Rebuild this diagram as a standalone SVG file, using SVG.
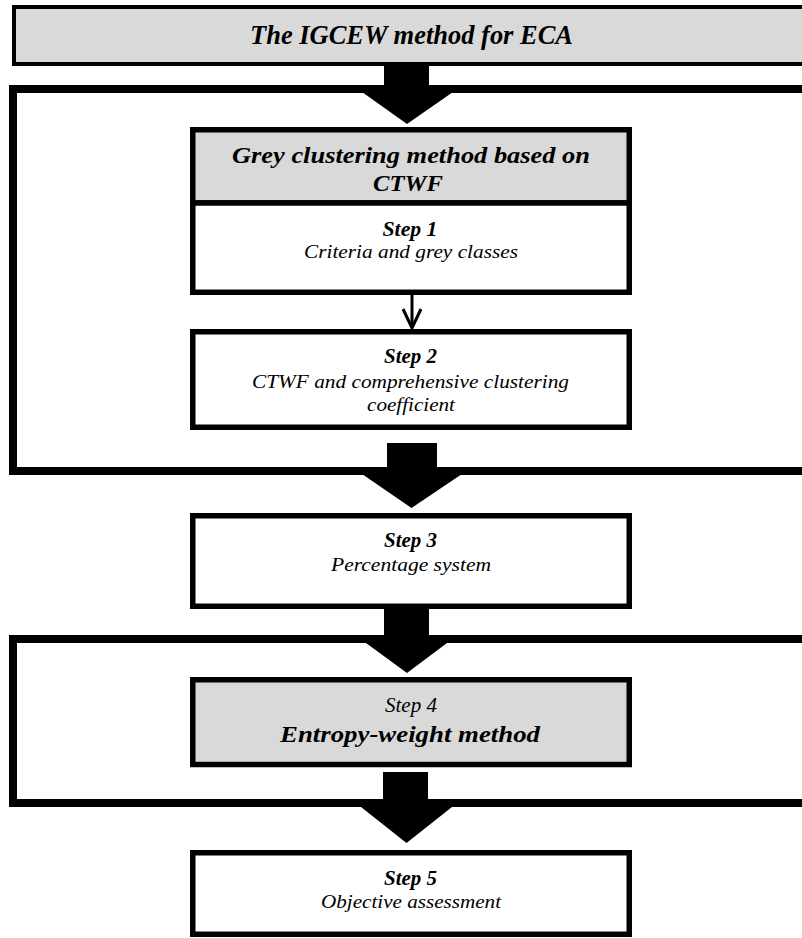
<svg xmlns="http://www.w3.org/2000/svg" width="802" height="938" viewBox="0 0 802 938">
<defs>
<style>
.frame{fill:none;stroke:#000;stroke-width:8}
.box{fill:#fff;stroke:#000;stroke-width:5.5}
.grey{fill:#d9d9d9;stroke:#000;stroke-width:5.5}
text{font-family:'Times New Roman','Liberation Serif',Tinos,serif;font-style:italic;text-anchor:middle;fill:#000}
.b{font-weight:bold}
.big{fill:#000;stroke:none}
</style>
</defs>
<rect width="802" height="938" fill="#fff"/>
<g id="frames">
<rect class="frame" x="13" y="89" width="810" height="382"/>
<rect class="frame" x="13" y="639" width="810" height="164"/>
</g>
<g id="title">
<rect x="14" y="7" width="810" height="57" fill="#d9d9d9" stroke="#000" stroke-width="4"/>
<text class="b" x="411.5" y="44" font-size="27" textLength="323" lengthAdjust="spacingAndGlyphs">The IGCEW method for ECA</text>
</g>
<g id="grey-clustering">
<rect class="grey" x="192.75" y="129.75" width="436.5" height="73.25"/>
<text class="b" x="411" y="163" font-size="23" textLength="358" lengthAdjust="spacingAndGlyphs">Grey clustering method based on</text>
<text class="b" x="408" y="191" font-size="23" textLength="70" lengthAdjust="spacingAndGlyphs">CTWF</text>
</g>
<g id="step1">
<rect class="box" x="192.75" y="203" width="436.5" height="89.25"/>
<text class="b" x="410" y="235.5" font-size="20" textLength="55" lengthAdjust="spacingAndGlyphs">Step 1</text>
<text x="411" y="258" font-size="19" textLength="214" lengthAdjust="spacingAndGlyphs">Criteria and grey classes</text>
</g>
<g id="step2">
<rect class="box" x="192.75" y="331.75" width="436.5" height="95.5"/>
<text class="b" x="410.5" y="363" font-size="20" textLength="53" lengthAdjust="spacingAndGlyphs">Step 2</text>
<text x="410.5" y="388" font-size="19" textLength="317" lengthAdjust="spacingAndGlyphs">CTWF and comprehensive clustering</text>
<text x="411" y="411" font-size="19" textLength="88" lengthAdjust="spacingAndGlyphs">coefficient</text>
</g>
<g id="step3">
<rect class="box" x="192.75" y="515.75" width="436.5" height="90.5"/>
<text class="b" x="410.5" y="546.7" font-size="20" textLength="53" lengthAdjust="spacingAndGlyphs">Step 3</text>
<text x="411" y="570.7" font-size="19" textLength="160" lengthAdjust="spacingAndGlyphs">Percentage system</text>
</g>
<g id="step4">
<rect class="grey" x="192.75" y="679.75" width="436.5" height="84.75"/>
<text x="411" y="711.7" font-size="20" textLength="52" lengthAdjust="spacingAndGlyphs">Step 4</text>
<text class="b" x="410" y="741.7" font-size="24" textLength="260" lengthAdjust="spacingAndGlyphs">Entropy-weight method</text>
</g>
<g id="step5">
<rect class="box" x="192.75" y="852.75" width="436.5" height="81.5"/>
<text class="b" x="410.5" y="885" font-size="20" textLength="53" lengthAdjust="spacingAndGlyphs">Step 5</text>
<text x="411" y="908" font-size="19" textLength="180" lengthAdjust="spacingAndGlyphs">Objective assessment</text>
</g>
<g id="connectors">
<polygon class="big" points="384,64 429,64 429,92 453,92 407,124 362,92 384,92"/>
<polygon class="big" points="387,443 437,443 437,474 462,474 411.5,508 362,474 387,474"/>
<polygon class="big" points="384,607 429,607 429,643 447,643 407,673 366,643 384,643"/>
<polygon class="big" points="383,772 428,772 428,807 452,807 406.5,843 361,807 383,807"/>
<line x1="412" y1="295" x2="412" y2="327" stroke="#000" stroke-width="3"/>
<polyline points="403,309 412,328 421,309" fill="none" stroke="#000" stroke-width="3"/>
</g>
</svg>
